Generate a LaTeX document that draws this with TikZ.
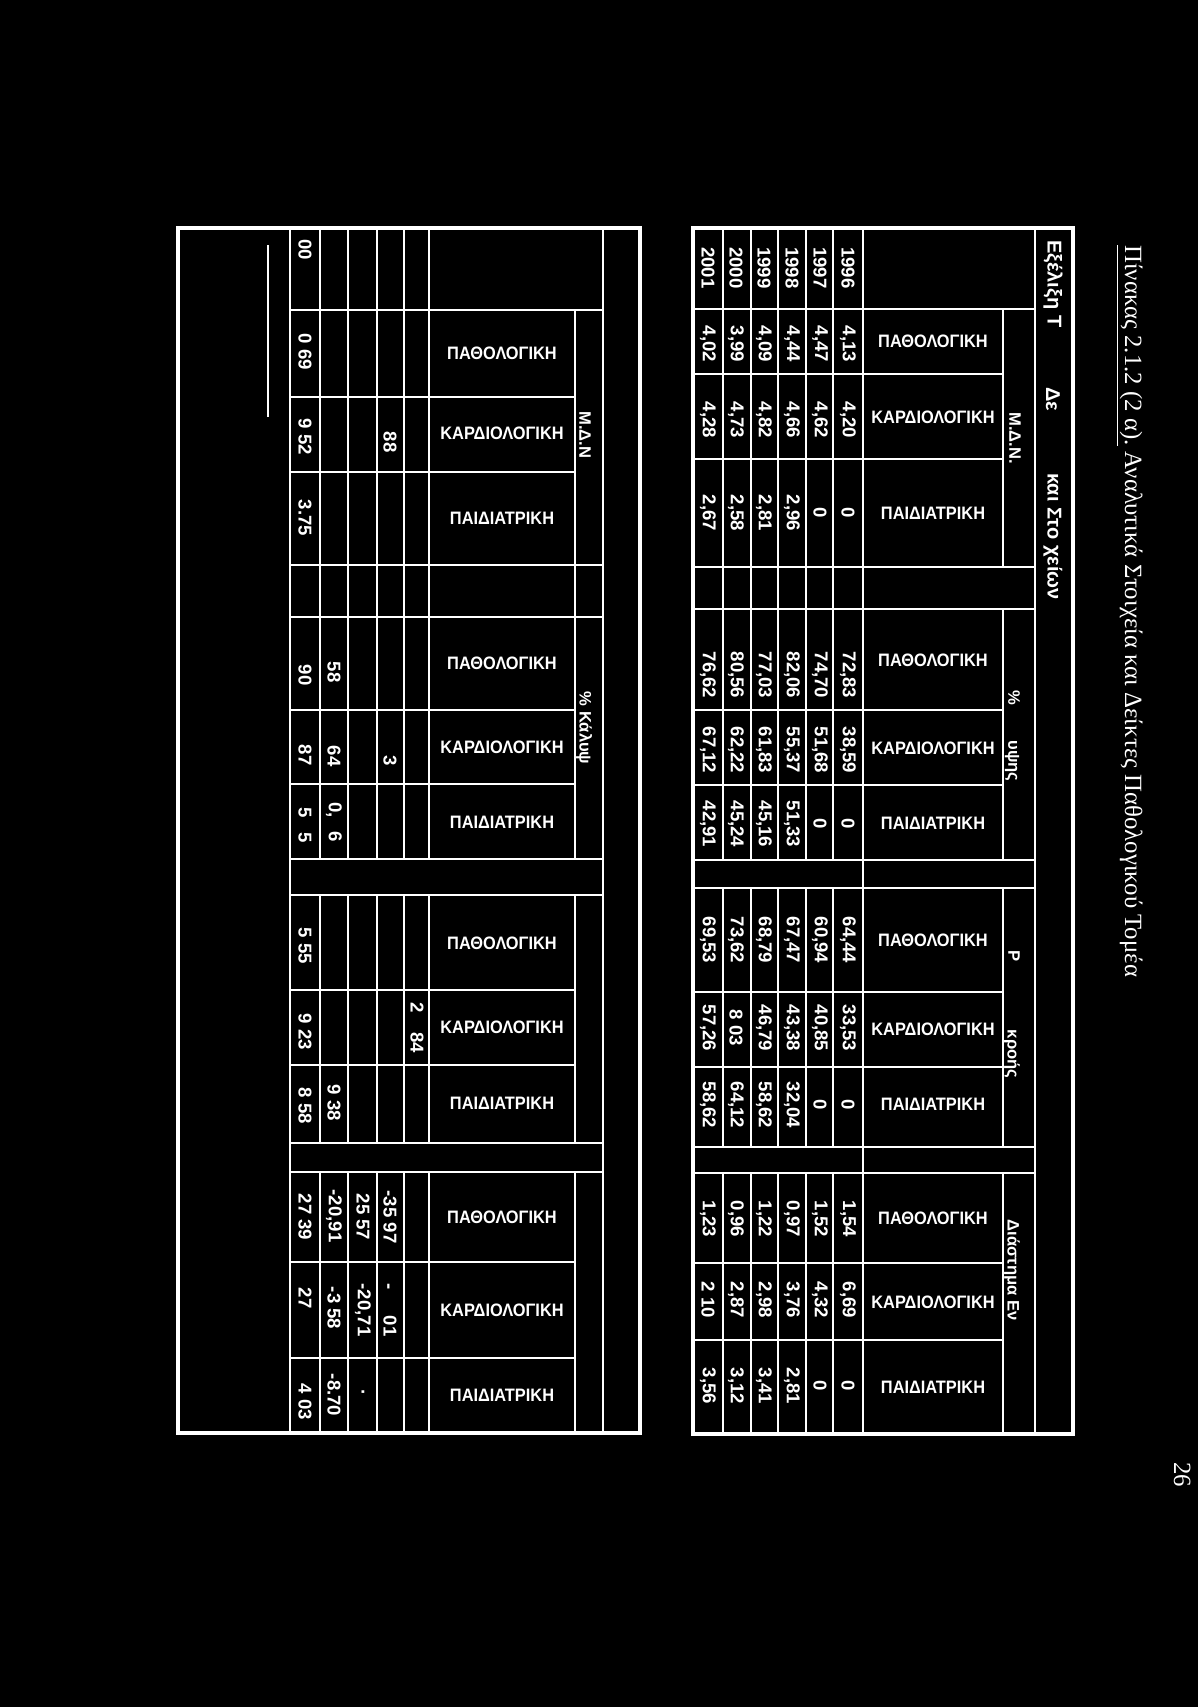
\documentclass[tikz,border=0pt]{standalone}
\usepackage{fontspec}
\setmainfont{Liberation Serif}
\newfontfamily\tabfont{Liberation Sans}

% one column of yearly values in the upper table
\newcommand{\yearvals}[3]{%
  \foreach \v [count=\i from 0] in {#3} {\node[num] (#1-\i) at ({848-28*\i},#2) {\v};}}

\begin{document}
\begin{tikzpicture}[x=0.5pt,y=-0.5pt,
    tabline/.style={white,line width=1.2pt},
    tabframe/.style={white,line width=1.6pt},
    num/.style={rotate=-90,text=white,inner sep=0pt,font=\tabfont\bfseries\fontsize{9.3}{10}\selectfont},
    hdr/.style={text=white,inner sep=0pt,xscale=0.91,font=\tabfont\bfseries\fontsize{9}{10}\selectfont},
    grp/.style={rotate=-90,text=white,inner sep=0pt,font=\tabfont\bfseries\fontsize{8.3}{10}\selectfont},
    ttl/.style={rotate=-90,text=white,inner sep=0pt,anchor=west,font=\tabfont\bfseries\fontsize{10}{12}\selectfont},
    capt/.style={rotate=-90,text=white,inner sep=0pt,anchor=base west,font=\fontsize{12.4}{14}\selectfont}]
  \useasboundingbox (0,0) rectangle (1198,1707);
  \fill[black] (0,0) rectangle (1198,1707);

  % caption and page number
  \node[capt] (caption) at (1125,245) {\underline{Πίνακας 2.1.2 (2 α).} Αναλυτικά Στοιχεία και Δείκτες Παθολογικού Τομέα};
  \node[capt] (pagenum) at (1174,1462) {26};

  % upper table: grid
  \draw[tabframe] (693,228) rectangle (1073,1434);
  \draw[tabline] (1035,228) -- (1035,1434);
  \draw[tabline] (863,228) -- (863,1434);
  \foreach \x in {723,751,778,806,833} {
    \draw[tabline] (\x,228) -- (\x,860);
    \draw[tabline] (\x,888) -- (\x,1147);
    \draw[tabline] (\x,1173) -- (\x,1434);
  }
  \foreach \a/\b in {309/567,609/860,888/1147,1173/1434}
    \draw[tabline] (1003,\a) -- (1003,\b);
  \foreach \y in {309,567,609,860,888,1147,1173}
    \draw[tabline] (693,\y) -- (1035,\y);
  \foreach \y in {374,459,710,785,992,1067,1263,1340}
    \draw[tabline] (693,\y) -- (1003,\y);

  % upper table: title strip and group labels
  \node[ttl] (title-a) at (1053,240) {Εξέλιξη Τ};
  \node[ttl] (title-b) at (1053,387) {Δε};
  \node[ttl] (title-c) at (1053,473) {και Στο χείων};
  \node[grp] (ulab-m) at (1015,438) {Μ.Δ.Ν.};
  \node[grp] (ulab-p1) at (1014,698) {\%};
  \node[grp] (ulab-p2) at (1012,761) {υψης};
  \node[grp] (ulab-r1) at (1014,956) {Ρ};
  \node[grp] (ulab-r2) at (1012,1054) {κροής};
  \node[grp] (ulab-d) at (1012,1270) {Διάστημα Εν};

  % upper table: headers
  \foreach \g/\ya/\yb/\yc in {m/341/417/513,p/660/748/823,r/940/1029/1104,d/1218/1302/1387} {
    \node[hdr] (u\g-pat) at (933,\ya) {ΠΑΘΟΛΟΓΙΚΗ};
    \node[hdr] (u\g-kar) at (933,\yb) {ΚΑΡΔΙΟΛΟΓΙΚΗ};
    \node[hdr] (u\g-ped) at (933,\yc) {ΠΑΙΔΙΑΤΡΙΚΗ};
  }

  % upper table: years and values
  \yearvals{yr}{268}{1996,1997,1998,1999,2000,2001}
  \yearvals{mpat}{344}{{4,13},{4,47},{4,44},{4,09},{3,99},{4,02}}
  \yearvals{mkar}{420}{{4,20},{4,62},{4,66},{4,82},{4,73},{4,28}}
  \yearvals{mped}{513}{0,0,{2,96},{2,81},{2,58},{2,67}}
  \yearvals{ppat}{675}{{72,83},{74,70},{82,06},{77,03},{80,56},{76,62}}
  \yearvals{pkar}{750}{{38,59},{51,68},{55,37},{61,83},{62,22},{67,12}}
  \yearvals{pped}{824}{0,0,{51,33},{45,16},{45,24},{42,91}}
  \yearvals{rpat}{940}{{64,44},{60,94},{67,47},{68,79},{73,62},{69,53}}
  \yearvals{rkar}{1028}{{33,53},{40,85},{43,38},{46,79},{8 03},{57,26}}
  \yearvals{rped}{1105}{0,0,{32,04},{58,62},{64,12},{58,62}}
  \yearvals{dpat}{1219}{{1,54},{1,52},{0,97},{1,22},{0,96},{1,23}}
  \yearvals{dkar}{1300}{{6,69},{4,32},{3,76},{2,98},{2,87},{2 10}}
  \yearvals{dped}{1386}{0,0,{2,81},{3,41},{3,12},{3,56}}

  % lower table: grid
  \draw[tabframe] (178,228) rectangle (640,1433);
  \draw[tabline] (290,228) -- (290,1433);
  \draw[tabline] (603,228) -- (603,1433);
  \foreach \x in {320,348,377,404,429} {
    \draw[tabline] (\x,228) -- (\x,859);
    \draw[tabline] (\x,895) -- (\x,1143);
    \draw[tabline] (\x,1172) -- (\x,1433);
  }
  \foreach \a/\b in {310/859,895/1143,1172/1433}
    \draw[tabline] (575,\a) -- (575,\b);
  \foreach \y in {310,565,617,859,895,1143,1172}
    \draw[tabline] (290,\y) -- (603,\y);
  \foreach \y in {397,472,710,784,990,1065,1262,1358}
    \draw[tabline] (290,\y) -- (575,\y);
  \draw[tabline,line width=0.8pt] (268,245) -- (268,417);

  % lower table: group labels and headers
  \node[grp] (llab-m) at (585,435) {Μ.Δ.Ν};
  \node[grp] (llab-p) at (584,728) {\%\ Κάλυψ};
  \foreach \g/\ya/\yb/\yc in {m/353/433/518,p/663/747/822,r/943/1027/1103,d/1217/1310/1395} {
    \node[hdr] (l\g-pat) at (502,\ya) {ΠΑΘΟΛΟΓΙΚΗ};
    \node[hdr] (l\g-kar) at (502,\yb) {ΚΑΡΔΙΟΛΟΓΙΚΗ};
    \node[hdr] (l\g-ped) at (502,\yc) {ΠΑΙΔΙΑΤΡΙΚΗ};
  }

  % lower table: values
  \node[num] (la-0) at (305,250) {00};
  \node[num] (la-1) at (305,352) {0 69};
  \node[num] (la-2) at (305,437) {9 52};
  \node[num] (la-3) at (305,518) {3.75};
  \node[num] (la-4) at (305,675) {90};
  \node[num] (la-5) at (305,755) {87};
  \node[num] (la-6) at (305,825) {5\hspace{7.5pt}5};
  \node[num] (la-7) at (305,946) {5 55};
  \node[num] (la-8) at (305,1032) {9 23};
  \node[num] (la-9) at (305,1106) {8 58};
  \node[num] (la-10) at (305,1217) {27 39};
  \node[num] (la-11) at (305,1298) {27};
  \node[num] (la-12) at (305,1402) {4 03};
  \node[num] (lb-1) at (334,672) {58};
  \node[num] (lb-2) at (334,756) {64};
  \node[num] (lb-3) at (334,822) {0,\hspace{7pt}6};
  \node[num] (lb-4) at (334,1103) {9 38};
  \node[num] (lb-5) at (334,1216) {-20,91};
  \node[num] (lb-6) at (334,1308) {-3 58};
  \node[num] (lb-7) at (334,1395) {-8.70};
  \node[num] (lc-1) at (363,1217) {25 57};
  \node[num] (lc-2) at (363,1310) {-20,71};
  \node[num] (lc-3) at (363,1392) {.};
  \node[num] (ld-1) at (390,442) {88};
  \node[num] (ld-2) at (390,761) {3};
  \node[num] (ld-3) at (390,1217) {-35 97};
  \node[num] (ld-4) at (390,1310) {-\hspace{13pt}01};
  \node[num] (le-1) at (417,1028) {2\hspace{9.5pt}84};
\end{tikzpicture}
\end{document}
